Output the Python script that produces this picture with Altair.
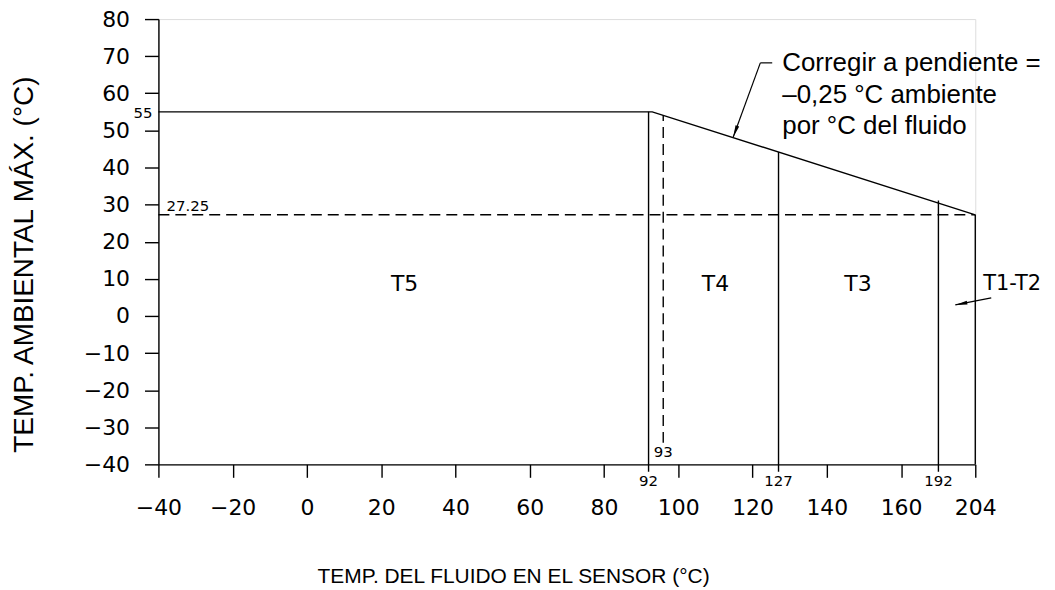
import altair as alt
import pandas as pd

# ---------------- data ----------------
x_ticks = [-40, -20, 0, 20, 40, 60, 80, 100, 120, 140, 160, 204]
y_ticks = [-40, -30, -20, -10, 0, 10, 20, 30, 40, 50, 60, 70, 80]

# limit envelope: 55 °C up to 93 °C, then slope -0.25 down to (204, 27.25)
env_x = [-40, 93, 204]
env_y = [55, 55, 27.25]

# solid class-boundary lines
bound_x = [92, 127, 192, 204]
bound_lo = [-42, -42, -42, -40]
bound_hi = [55, 44.2, 31.1, 27.25]
bound_labels = ["92", "127", "192"]
bound_label_x = [92, 127, 192]

# dashed guides
dash_v_x = [93]
dash_v_lo = [-34.2]
dash_v_hi = [54.1]
dash_h_y = [27.25]
dash_h_x1 = [-40]
dash_h_x2 = [204]

# temperature class labels
zone_names = ["T5", "T4", "T3"]
zone_x = [26.3, 110, 148.4]
zone_y = [8.6, 8.6, 8.6]

# annotation
ann_lines = ["Corregir a pendiente =", "\u20130,25 \u00b0C ambiente", "por \u00b0C del fluido"]
ann_x = [128, 128, 128]
ann_y = [66.1, 57.5, 49.0]

# leader segments (x1, y1, x2, y2)
seg_x1 = [125.3, 122.1, 209.2]
seg_y1 = [68.2, 68.2, 4.87]
seg_x2 = [122.1, 114.8, 197.5]
seg_y2 = [68.2, 48.2, 3.0]

# arrow heads
head_x = [115.35, 199.4]
head_y = [49.68, 3.29]
head_angle = [200, 259]

# ---------------- scales & axes ----------------
xscale = alt.Scale(domain=[-40, 160, 192, 204], range=[0, 745.5, 783, 820], nice=False, zero=False)
yscale = alt.Scale(domain=[-40, 80], nice=False, zero=False)

XTITLE = "TEMP. DEL FLUIDO EN EL SENSOR (\u00b0C)"
YTITLE = "TEMP. AMBIENTAL M\u00c1X. (\u00b0C)"

xaxis = alt.Axis(
    values=x_ticks, grid=False, tickSize=13, labelPadding=20,
    labelFont="DejaVu Sans", labelFontSize=22, labelColor="black",
    labelFlush=False, labelOverlap=False,
    domainColor="black", tickColor="black", domainWidth=1.4, tickWidth=1.4,
    title=XTITLE, titleFont="Liberation Sans", titleFontSize=21, titleFontWeight="normal",
    titleColor="black", titleX=356, titleY=119, titleAlign="center", titleBaseline="alphabetic",
)
yaxis = alt.Axis(
    values=y_ticks, grid=False, tickSize=14, labelPadding=15,
    labelFont="DejaVu Sans", labelFontSize=22, labelColor="black",
    labelFlush=False, labelOverlap=False,
    domainColor="black", tickColor="black", domainWidth=1.4, tickWidth=1.4,
    title=YTITLE, titleFont="Liberation Sans", titleFontSize=28, titleFontWeight="normal",
    titleColor="black", titleAngle=270, titleX=-126, titleY=246, titleAlign="center",
    titleBaseline="alphabetic",
)


def X(field="x"):
    return alt.X(f"{field}:Q", scale=xscale, axis=xaxis)


def Y(field="y"):
    return alt.Y(f"{field}:Q", scale=yscale, axis=yaxis)


LW = 1.4

env_df = pd.DataFrame({"x": env_x, "y": env_y, "o": list(range(len(env_x)))})
envelope = alt.Chart(env_df).mark_line(color="black", strokeWidth=LW).encode(
    x=X(), y=Y(), order="o:Q"
)

bound_df = pd.DataFrame({"x": bound_x, "lo": bound_lo, "hi": bound_hi})
bounds = alt.Chart(bound_df).mark_rule(color="black", strokeWidth=LW).encode(
    x=X(), y=Y("lo"), y2="hi:Q"
)

dv_df = pd.DataFrame({"x": dash_v_x, "lo": dash_v_lo, "hi": dash_v_hi})
dash_v = alt.Chart(dv_df).mark_rule(color="black", strokeWidth=LW, strokeDash=[11, 6], xOffset=11).encode(
    x=X(), y=Y("lo"), y2="hi:Q"
)

dh_df = pd.DataFrame({"x1": dash_h_x1, "x2": dash_h_x2, "y": dash_h_y})
dash_h = alt.Chart(dh_df).mark_rule(color="black", strokeWidth=LW, strokeDash=[11, 6]).encode(
    x=X("x1"), x2="x2:Q", y=Y()
)

bl_df = pd.DataFrame({"x": bound_label_x, "y": [-40] * len(bound_label_x), "t": bound_labels})
bound_txt = alt.Chart(bl_df).mark_text(
    font="DejaVu Sans", fontSize=15, color="black", baseline="middle", align="center", dy=17
).encode(x=X(), y=Y(), text="t:N")

lbl93 = alt.Chart(pd.DataFrame({"x": dash_v_x, "y": [-40], "t": ["93"]})).mark_text(
    font="DejaVu Sans", fontSize=15, color="black", baseline="middle", align="center", dx=11, dy=-12
).encode(x=X(), y=Y(), text="t:N")

lbl55 = alt.Chart(pd.DataFrame({"x": [-40], "y": [env_y[0]], "t": ["55"]})).mark_text(
    font="DejaVu Sans", fontSize=15, color="black", baseline="middle", align="right", dx=-6, dy=1
).encode(x=X(), y=Y(), text="t:N")

lbl2725 = alt.Chart(pd.DataFrame({"x": dash_h_x1, "y": dash_h_y, "t": ["27.25"]})).mark_text(
    font="DejaVu Sans", fontSize=15, color="black", baseline="alphabetic", align="left", dx=8, dy=-4
).encode(x=X(), y=Y(), text="t:N")

zone_df = pd.DataFrame({"x": zone_x, "y": zone_y, "t": zone_names})
zones = alt.Chart(zone_df).mark_text(
    font="DejaVu Sans", fontSize=22, color="black", baseline="middle", align="center"
).encode(x=X(), y=Y(), text="t:N")

t12 = alt.Chart(pd.DataFrame({"x": [204], "y": [8.5], "t": ["T1-T2"]})).mark_text(
    font="DejaVu Sans", fontSize=21, color="black", baseline="middle", align="left", dx=8
).encode(x=X(), y=Y(), text="t:N")

ann_df = pd.DataFrame({"x": ann_x, "y": ann_y, "t": ann_lines})
ann = alt.Chart(ann_df).mark_text(
    font="Liberation Sans", fontSize=26, color="black", baseline="alphabetic", align="left"
).encode(x=X(), y=Y(), text="t:N")

seg_df = pd.DataFrame({"x1": seg_x1, "y1": seg_y1, "x2": seg_x2, "y2": seg_y2})
segs = alt.Chart(seg_df).mark_rule(color="black", strokeWidth=1.2).encode(
    x=X("x1"), x2="x2:Q", y=Y("y1"), y2="y2:Q"
)

head_df = pd.DataFrame({"x": head_x, "y": head_y, "a": head_angle})
heads = alt.Chart(head_df).mark_point(
    shape="M0,-1L0.32,1L-0.32,1Z", filled=True, color="black", opacity=1, size=150, strokeWidth=0
).encode(x=X(), y=Y(), angle=alt.Angle("a:Q", scale=None))

chart = alt.layer(
    envelope, bounds, dash_v, dash_h, bound_txt, lbl93, lbl55, lbl2725, zones, t12, ann, segs, heads
).properties(
    width=820, height=447,
    autosize=alt.AutoSizeParams(type="none"),
    padding={"left": 151, "top": 10, "right": 72, "bottom": 125},
).configure_view(stroke=None).configure(background="white")

chart.save("out.html", embed_options={"renderer": "svg", "actions": False})
